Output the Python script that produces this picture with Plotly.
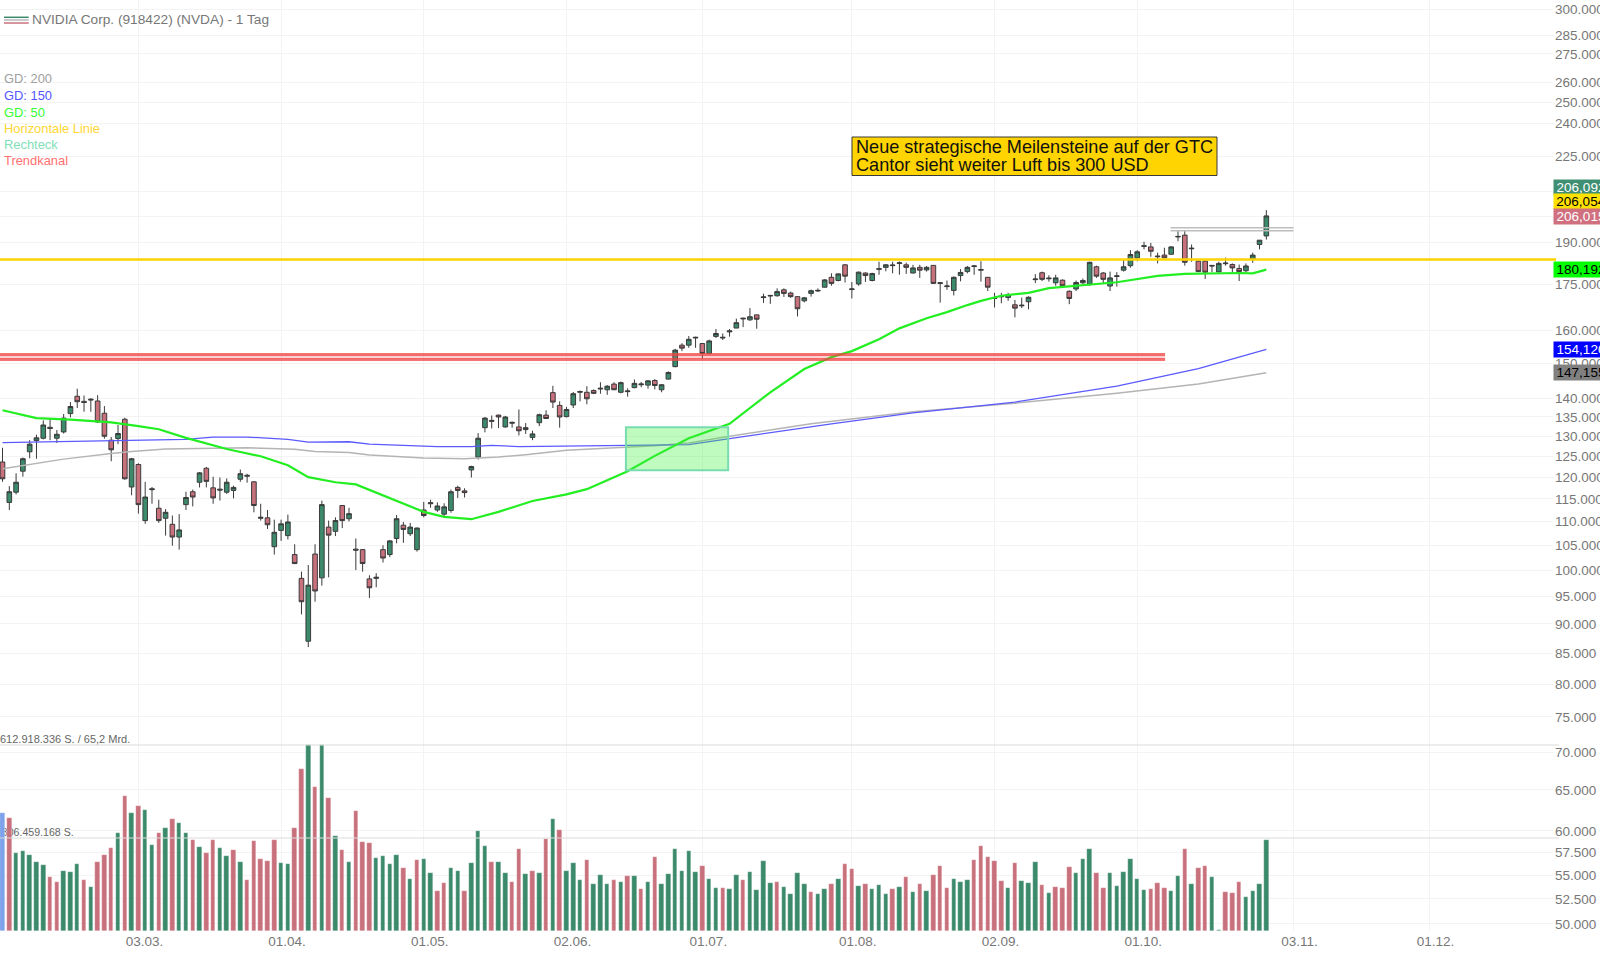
import plotly.graph_objects as go

PLOT_W = 1553
PLOT_H = 931

# daily bars, index 0 = 31.01.2025
opens = [123.6,114.2,116.5,121.4,126.1,128.9,129.5,132.3,129.5,131.1,135.9,140.6,139.2,139.8,139.3,136.0,129.0,129.4,134.4,117.7,
         123.0,110.2,117.3,112.9,110.7,109.4,106.7,113.7,116.6,118.8,122.1,117.5,117.2,116.5,116.9,119.5,120.2,118.9,110.7,110.8,
         104.7,108.1,107.0,103.1,98.4,87.0,103.2,98.5,108.8,107.9,113.5,110.6,104.2,104.1,98.3,98.4,104.1,103.1,106.4,109.2,
         107.4,104.1,112.5,113.9,112.5,111.6,112.4,117.6,116.8,121.7,124.8,132.2,134.1,135.5,132.4,133.6,132.4,131.7,129.7,133.5,
         135.5,141.6,138.1,135.1,138.2,141.7,141.7,142.2,142.6,142.4,144.0,141.7,142.1,143.0,143.8,143.7,145.0,142.4,145.4,149.0,
         155.4,155.4,157.6,155.9,152.9,158.1,157.6,159.5,160.7,163.6,163.3,164.9,170.6,171.1,171.2,173.2,172.1,170.9,169.5,172.0,
         172.8,174.1,177.5,176.4,181.9,173.3,175.2,179.0,176.4,180.3,181.0,181.6,182.4,181.9,179.0,181.0,180.1,181.7,175.4,174.3,
         173.0,178.1,179.5,181.3,180.0,177.5,170.3,171.1,170.6,168.2,168.1,169.2,176.7,179.1,177.0,175.6,176.5,172.7,173.5,175.6,
         175.2,181.2,179.0,174.5,177.8,180.0,181.6,184.4,188.6,188.4,184.8,185.4,185.7,192.1,192.8,187.7,183.2,183.2,181.7,179.4,
         182.3,182.0,180.6,179.8,184.0,189.3,192.5]
highs = [127.1,117.9,120.9,124.7,129.0,130.4,134.1,134.5,131.6,135.8,139.0,142.7,140.8,140.1,140.9,137.9,129.8,132.9,134.8,124.6,
         123.3,118.9,117.7,114.8,112.7,111.3,111.6,116.6,117.1,121.2,122.4,120.1,119.9,119.7,118.0,121.8,120.8,119.0,113.9,112.5,
         110.4,110.4,111.5,105.2,99.7,101.0,105.2,114.6,110.2,110.9,113.6,113.0,106.4,104.2,99.0,99.4,105.0,106.1,111.4,109.9,
         109.7,108.7,114.3,114.8,114.2,114.0,117.1,118.0,117.4,122.7,130.8,135.0,135.4,135.6,135.3,133.8,137.0,133.4,131.4,135.9,
         136.8,143.5,139.2,137.7,141.8,142.2,143.4,142.5,144.5,143.7,144.5,144.7,142.8,145.3,144.6,145.1,145.4,144.0,147.6,154.3,
         156.0,158.2,158.0,156.0,157.1,160.4,159.0,160.4,163.7,164.0,167.1,165.0,171.9,171.5,173.7,173.7,172.6,171.0,170.8,173.3,
         173.7,176.9,178.9,178.9,182.1,175.9,179.5,179.2,179.1,183.0,182.1,183.0,183.1,182.7,181.9,181.9,181.5,181.8,175.9,176.4,
         177.8,180.4,181.5,181.8,183.2,177.6,172.2,172.2,172.2,169.8,170.6,171.0,178.6,179.5,178.2,178.4,176.8,173.0,176.4,177.1,
         183.0,181.6,179.3,179.5,179.3,183.6,187.2,187.2,190.3,189.9,186.3,188.1,188.7,194.3,194.7,189.3,183.4,183.4,181.8,183.0,
         184.5,182.4,182.0,182.4,186.3,190.9,202.5]
lows = [118.9,112.5,116.0,120.1,124.5,124.4,129.2,129.0,128.3,130.7,134.9,137.4,136.4,136.4,133.4,129.4,123.8,128.0,119.4,115.8,
        111.7,109.5,113.9,109.7,107.0,104.9,104.1,112.5,113.3,117.6,117.6,113.9,114.6,116.1,115.1,118.9,118.7,112.0,110.2,108.4,
        103.1,105.9,106.2,101.2,91.7,86.0,94.0,97.0,98.6,106.9,108.6,110.0,100.0,99.7,94.7,96.7,101.5,102.6,105.4,105.5,
        106.9,103.7,110.9,113.0,112.1,110.8,111.9,115.2,115.3,119.9,124.2,131.0,132.0,132.1,132.2,132.2,130.2,130.6,129.0,132.6,
        134.5,137.4,132.2,134.9,137.4,139.2,138.4,141.2,141.3,141.0,142.3,141.4,140.5,142.8,143.1,142.7,142.5,141.7,145.3,148.8,
        153.6,154.6,154.6,151.3,152.6,157.6,157.0,158.0,160.7,161.0,163.0,160.5,168.8,168.5,170.9,170.8,170.5,164.4,169.0,170.9,
        172.5,174.0,174.6,176.1,175.7,170.3,174.6,175.9,176.1,178.4,179.6,178.9,178.4,178.7,178.9,177.3,179.5,175.2,168.9,173.2,
        171.3,176.1,178.9,178.4,176.0,172.8,167.3,168.7,169.5,164.1,167.1,166.7,175.5,176.2,176.0,174.6,174.3,168.4,172.8,175.2,
        174.5,177.3,175.2,172.8,174.3,179.5,180.9,183.2,187.5,184.8,182.4,184.2,185.6,190.5,181.6,183.0,179.3,176.9,179.3,179.3,
        181.6,179.3,176.2,179.3,182.6,187.5,191.1]
closes = [119.6,116.6,118.8,124.4,128.0,129.6,132.9,132.0,130.5,134.7,137.8,139.1,138.9,139.6,133.7,130.0,126.6,130.7,119.6,124.4,
          113.7,115.4,117.1,110.2,112.0,106.7,108.2,115.3,115.4,121.0,119.0,115.2,117.0,118.8,117.6,120.8,120.4,113.5,110.9,109.3,
          107.7,109.5,109.9,101.3,94.0,97.1,96.0,113.7,107.1,110.2,110.2,111.7,104.0,101.3,96.6,98.6,102.4,105.9,110.6,108.3,
          108.8,108.6,111.3,114.1,113.4,113.2,116.6,116.9,116.4,122.5,129.5,134.7,133.9,135.0,135.0,133.4,131.4,132.2,130.6,135.6,
          134.6,139.0,135.0,137.0,141.3,141.9,139.9,141.4,142.8,143.4,142.4,144.4,141.9,144.2,144.0,144.9,143.6,143.8,147.3,153.9,
          154.5,157.2,157.8,152.9,156.7,159.0,157.8,159.8,162.4,163.8,164.3,163.5,170.8,171.3,172.6,172.0,170.9,166.9,170.5,172.9,
          173.0,176.6,175.4,178.7,177.9,173.5,179.3,178.1,178.8,180.5,181.9,181.8,182.6,181.0,180.8,180.0,181.0,175.4,175.6,174.5,
          177.5,179.2,181.0,181.5,180.2,174.1,170.5,170.9,171.6,167.1,167.9,170.7,176.9,176.8,177.2,177.3,174.6,170.3,175.7,176.4,
          182.8,177.9,176.8,177.3,178.0,181.2,185.6,186.6,188.8,186.8,185.0,184.4,188.4,192.3,182.8,187.9,179.5,179.3,181.5,182.4,
          182.5,180.8,179.5,181.5,185.4,190.9,200.2]

# volume in millions of shares
volumes = [390,371,256,262,251,227,216,179,160,198,195,220,167,144,228,251,272,322,444,389,
           412,399,283,322,341,368,355,324,299,278,256,300,273,248,267,228,167,296,237,231,
           299,223,221,338,533,612,475,613,438,313,266,229,397,292,289,242,247,221,250,208,
           170,235,236,190,133,158,208,199,133,225,330,281,226,226,192,160,271,187,199,192,
           304,370,334,197,225,167,233,154,184,156,167,161,180,182,139,160,243,154,187,269,
           198,264,194,213,171,143,141,137,183,168,193,136,231,158,160,146,123,192,154,128,
           122,139,154,173,221,204,148,156,137,152,123,138,146,179,130,156,132,184,214,141,
           172,163,169,235,281,243,231,165,143,224,164,157,226,150,124,146,141,212,191,237,
           269,192,143,190,149,193,237,172,136,137,158,141,131,182,269,154,206,214,177,2,
           128,124,161,111,131,154,299]
# 1 = up on the previous close, -1 = down, 0 = marked bar
vol_dir = [0,-1,1,1,1,1,1,-1,-1,1,1,1,-1,1,-1,-1,-1,1,-1,1,
           -1,1,1,-1,1,-1,1,1,-1,1,-1,-1,1,1,-1,1,-1,-1,-1,-1,
           -1,1,1,-1,-1,1,-1,1,-1,1,-1,1,-1,-1,-1,1,1,1,1,-1,
           1,-1,1,1,-1,-1,1,1,-1,1,1,1,-1,1,1,-1,-1,1,-1,1,
           -1,1,-1,1,1,1,-1,1,1,1,-1,1,-1,1,-1,1,-1,1,1,1,
           1,1,1,-1,1,1,-1,1,1,-1,1,1,1,1,-1,1,1,1,1,-1,
           1,1,-1,1,-1,-1,1,-1,1,1,1,-1,1,-1,1,-1,1,-1,-1,-1,
           1,1,1,-1,-1,-1,-1,-1,1,-1,1,1,1,-1,1,-1,-1,-1,1,1,
           1,-1,-1,1,1,1,1,1,1,-1,-1,-1,1,1,-1,1,-1,-1,1,1,
           -1,-1,-1,1,1,1,1]

gd50_idx = [0,5,10,16,20,23,27,33,38,42,45,49,52,57,62,65,69,73,78,83,86,92,96,101,107,113,118,122,125,129,132,136,139,142,144,147,151,154,159,164,170,174,182,184,186]
gd50 = [136.8,134.7,134.3,133.6,132.6,131.8,129.6,126.8,125.0,122.8,120.0,118.8,118.3,115.2,112.1,111.0,110.5,112.1,114.5,116.0,117.2,121.4,125.1,129.5,133.2,141.7,148.3,151.8,153.6,157.2,160.6,163.8,165.8,168.1,169.5,171.2,172.2,173.8,174.8,175.8,178.0,178.7,179.0,178.9,180.2]
gd150_idx = [0,9,19,27,31,36,42,45,51,54,64,69,72,76,92,101,107,122,134,149,164,176,186]
gd150 = [128.4,128.7,129.1,129.2,129.8,129.8,129.2,128.5,128.6,128.0,127.4,127.4,127.7,127.4,127.7,127.9,129.4,133.2,136.1,139.0,143.4,148.4,154.1]
gd200_idx = [0,4,9,16,19,24,29,36,43,46,51,54,62,68,73,77,83,90,96,101,107,119,134,149,164,176,186]
gd200 = [122.0,123.0,124.3,125.7,126.2,126.8,127.0,127.1,126.7,126.2,125.9,125.3,124.6,124.4,124.8,125.4,126.5,127.1,127.6,128.3,130.0,133.2,136.4,138.7,141.4,144.0,147.2]

horizontal_line = 183.8
trend_channel = [152.6, 151.1]
trend_channel_end = 171.1
short_channel = [195.6, 194.5]
short_channel_idx = [171.9, 190]
rect_idx = [91.75, 106.8]
rect_price = [121.6, 132.3]

price_ticks = [300,285,275,260,250,240,225,210,200,190,175,160,150,140,135,130,125,120,115,110,105,100,95,90,85,80,75,70,65,60,57.5,55,52.5,50]
date_ticks = [20,41,62,83,103,125,146,167,190,210]
date_labels = ["03.03.","01.04.","01.05.","02.06.","01.07.","01.08.","02.09.","01.10.","03.11.","01.12."]

vol_max = 612.918336
vol_avg = 306.459168
price_tags = [("206,092", 187, "#3f8f73", "white"), ("206,054", 202, "#ffe100", "black"),
              ("206,015", 216.5, "#d0707f", "white"), ("180,192", 269, "#00ff00", "black"),
              ("154,120", 349, "#0000ff", "white"), ("147,155", 372.5, "#808080", "black")]
legend_items = [("GD: 200", 79, "#a0a0a0"), ("GD: 150", 95.5, "#5555ff"), ("GD: 50", 112, "#33ff33"),
                ("Horizontale Linie", 128, "#ffd633"), ("Rechteck", 144.5, "#7fe0b8"), ("Trendkanal", 161, "#ff7070")]
note_lines = [("Neue strategische Meilensteine auf der GTC", 147), ("Cantor sieht weiter Luft bis 300 USD", 165)]

FONT = "Liberation Sans"
GREEN = "#3c8a6c"
RED = "#c8707c"
idx = list(range(len(closes)))
vol_colors = [{1: GREEN, -1: RED, 0: "#7da2ea"}[d] for d in vol_dir]

fig = go.Figure()
fig.add_trace(go.Candlestick(
    x=idx, open=opens, high=highs, low=lows, close=closes,
    increasing=dict(fillcolor=GREEN, line=dict(color="#3a3a3a", width=1)),
    decreasing=dict(fillcolor=RED, line=dict(color="#3a3a3a", width=1)),
    whiskerwidth=0, showlegend=False))
fig.add_trace(go.Scatter(x=gd200_idx, y=gd200, mode="lines", line=dict(color="#b4b4b4", width=1.5), showlegend=False))
fig.add_trace(go.Scatter(x=gd150_idx, y=gd150, mode="lines", line=dict(color="#5a5aff", width=1.3), showlegend=False))
fig.add_trace(go.Scatter(x=gd50_idx, y=gd50, mode="lines", line=dict(color="#22ee22", width=2.2), showlegend=False))
# average volume label sits under the bars, so it is a trace on the lower layer
fig.add_trace(go.Scatter(x=[-0.1], y=[59.7], mode="text", text=["306.459.168 S."], textposition="middle right",
                         textfont=dict(family=FONT, size=10.6, color="#666666"), showlegend=False, cliponaxis=False))
fig.add_trace(go.Bar(x=idx, y=volumes, yaxis="y2", width=0.66, marker=dict(color=vol_colors, line=dict(color="rgba(255,255,255,0.5)", width=0.5)), showlegend=False))

shapes = []
for v in [vol_max, vol_avg]:
    shapes.append(dict(type="line", xref="paper", yref="y2", x0=0, x1=1.004, y0=v, y1=v, line=dict(color="#dcdcdc", width=1.2)))
shapes.append(dict(type="rect", xref="x", yref="y", x0=rect_idx[0], x1=rect_idx[1], y0=rect_price[0], y1=rect_price[1],
                   fillcolor="rgba(60,240,60,0.33)", line=dict(color="#78dcae", width=2)))
shapes.append(dict(type="rect", xref="x", yref="y", x0=-1, x1=trend_channel_end, y0=trend_channel[1], y1=trend_channel[0],
                   fillcolor="rgba(240,70,70,0.25)", line=dict(width=0)))
for v in trend_channel:
    shapes.append(dict(type="line", xref="x", yref="y", x0=-1, x1=trend_channel_end, y0=v, y1=v, line=dict(color="rgba(240,70,70,0.75)", width=3)))
for v in short_channel:
    shapes.append(dict(type="line", xref="x", yref="y", x0=short_channel_idx[0], x1=short_channel_idx[1], y0=v, y1=v, line=dict(color="#bdbdbd", width=1.5)))
shapes.append(dict(type="line", xref="paper", yref="y", x0=0, x1=1.002, y0=horizontal_line, y1=horizontal_line, line=dict(color="#ffd400", width=2.6)))
for yy, col in [(17.3, GREEN), (20, "#b8b8b8"), (23, RED)]:
    shapes.append(dict(type="line", xref="paper", yref="paper", x0=4 / PLOT_W, x1=28.7 / PLOT_W, y0=1 - yy / PLOT_H, y1=1 - yy / PLOT_H,
                       line=dict(color=col, width=1.5)))
# note box, drawn as rectangle plus two text lines to get the tight line spacing
shapes.append(dict(type="rect", xref="paper", yref="paper", x0=852 / PLOT_W, x1=1217 / PLOT_W, y0=1 - 175.5 / PLOT_H, y1=1 - 137 / PLOT_H,
                   fillcolor="#ffd400", line=dict(color="#3a3a3a", width=1)))

annotations = [
    dict(x=31 / PLOT_W, y=1 - 20 / PLOT_H, text="NVIDIA Corp. (918422) (NVDA) - 1 Tag", font=dict(size=13.7, color="#777777")),
    dict(x=-1 / PLOT_W, y=1 - 739 / PLOT_H, text="612.918.336 S. / 65,2 Mrd.", font=dict(size=11, color="#666666")),
]
for label, yy, col in legend_items:
    annotations.append(dict(x=2.5 / PLOT_W, y=1 - yy / PLOT_H, text=label, font=dict(size=12.9, color=col)))
for label, yy in note_lines:
    annotations.append(dict(x=855 / PLOT_W, y=1 - yy / PLOT_H, text=label, font=dict(size=18.1, color="#111111")))
for a in annotations:
    a.update(xref="paper", yref="paper", xanchor="left", yanchor="middle", showarrow=False, align="left", borderpad=0)
for label, yy, bg, fg in price_tags:
    annotations.append(dict(xref="paper", yref="paper", x=1553 / PLOT_W, y=1 - yy / PLOT_H, text=label, xanchor="left", yanchor="middle",
                            showarrow=False, align="center", bgcolor=bg, width=54, height=15, borderpad=0, font=dict(size=13.5, color=fg)))

fig.update_layout(
    width=1600, height=953, template="none", paper_bgcolor="white", plot_bgcolor="white",
    margin=dict(l=0, r=47, t=0, b=22), font=dict(family=FONT, color="#777777"),
    showlegend=False, bargap=0, boxgap=0.32, boxgroupgap=0, shapes=shapes, annotations=annotations,
    xaxis=dict(range=[-0.368, 228.19], rangeslider=dict(visible=False), tickmode="array", tickvals=date_ticks, ticktext=date_labels,
               ticks="", showgrid=True, gridcolor="#f3f3f3", gridwidth=1, zeroline=False, showline=False,
               ticklabelshift=6, tickfont=dict(size=13.5, color="#777777")),
    yaxis=dict(type="log", side="right", range=[1.6929, 2.4852], tickmode="array", tickvals=price_ticks,
               ticktext=[f"{v:,.3f}" for v in price_ticks], ticks="", showgrid=True, gridcolor="#f3f3f3", gridwidth=1,
               zeroline=False, showline=False, automargin=False, ticklabelstandoff=1, tickfont=dict(size=13.5, color="#777777")),
    yaxis2=dict(overlaying="y", range=[0, vol_max * PLOT_H / 186], visible=False),
)
# page default body margin would push the plot 8px in
fig.write_html("out.html", config={"displayModeBar": False}, post_script="document.body.style.margin='0';")
